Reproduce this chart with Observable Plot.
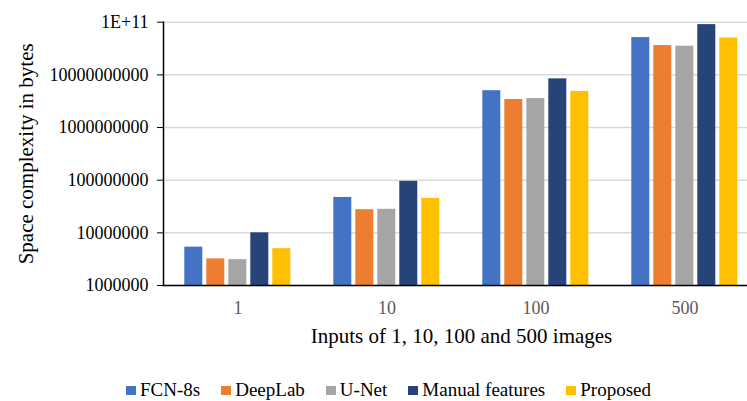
<!DOCTYPE html>
<html>
<head>
<meta charset="utf-8">
<script src="https://cdn.jsdelivr.net/npm/d3@7"></script>
<script src="https://cdn.jsdelivr.net/npm/@observablehq/plot@0.6"></script>
<style>
  html, body { margin: 0; padding: 0; background: #fff; }
  #wrap { position: relative; width: 747px; height: 401px; overflow: hidden; font-family: "Liberation Serif", "Times New Roman", serif; }
  #legend { position: absolute; left: 126px; top: 379px; display: flex; align-items: center; font-size: 19px; color: #000; white-space: nowrap; }
  .item { display: flex; align-items: center; margin-right: 21px; }
  .sw { width: 10px; height: 9px; margin-right: 4px; }
</style>
</head>
<body>
<div id="wrap"><div id="chart"></div><div id="legend"></div></div>
<script>
const groups = ["1", "10", "100", "500"];
const series = ["FCN-8s", "DeepLab", "U-Net", "Manual features", "Proposed"];
const colors = ["#4472C4", "#ED7D31", "#A5A5A5", "#264478", "#FFC000"];
const fcn8s    = [5.35e6, 4.7e7, 5.0e9, 5.1e10];
const deeplab  = [3.2e6, 2.75e7, 3.4e9, 3.6e10];
const unet     = [3.1e6, 2.8e7, 3.55e9, 3.5e10];
const manual   = [1.0e7, 9.5e7, 8.4e9, 9.0e10];
const proposed = [5.0e6, 4.5e7, 4.85e9, 5.0e10];
const yTicks = [1e6, 1e7, 1e8, 1e9, 1e10, 1e11];
const yTickLabels = ["1000000", "10000000", "100000000", "1000000000", "10000000000", "1E+11"];
const yLabel = "Space complexity in bytes";
const xLabel = "Inputs of 1, 10, 100 and 500 images";

const valuesBySeries = [fcn8s, deeplab, unet, manual, proposed];
const data = [];
series.forEach((s, si) => groups.forEach((g, gi) => data.push({group: g, series: s, value: valuesBySeries[si][gi]})));

const chart = Plot.plot({
  width: 747,
  height: 372,
  marginLeft: 162.7,
  marginRight: -13,
  marginTop: 21.7,
  marginBottom: 87,
  style: {fontFamily: "'Liberation Serif', 'Times New Roman', serif", fontSize: "18px", background: "#fff", color: "#000"},
  fx: {domain: groups, padding: 0},
  x: {domain: series, paddingInner: 0.2, paddingOuter: 0.88, axis: null},
  y: {type: "log", domain: [1e6, 1e11]},
  color: {domain: series, range: colors},
  marks: [
    Plot.gridY(yTicks, {stroke: "#d9d9d9", strokeOpacity: 1, strokeWidth: 1.5}),
    Plot.barY(data, {fx: "group", x: "series", y1: 1e6, y2: "value", fill: "series"}),
    Plot.ruleY([1e6], {stroke: "#000", strokeWidth: 1.5}),
    Plot.axisY({ticks: yTicks, tickFormat: d => yTickLabels[yTicks.indexOf(d)], tickSize: 6, tickPadding: 9, fontSize: 18, fill: "#000", label: null}),
    Plot.axisY({ticks: [], tickSize: 0, fontSize: 21, fill: "#000", label: yLabel, labelAnchor: "center", labelArrow: "none", labelOffset: 145}),
    Plot.frame({anchor: "left", facetAnchor: "left", stroke: "#000", strokeWidth: 1.5}),
    Plot.axisFx({anchor: "bottom", tickSize: 0, tickPadding: 16, fontSize: 18, fill: "#595959", label: null}),
    Plot.axisFx({anchor: "bottom", ticks: [], tickSize: 0, fontSize: 21, fill: "#000", label: xLabel, labelAnchor: "center", labelArrow: "none", labelOffset: 57})
  ]
});
document.getElementById("chart").appendChild(chart);

const legend = document.getElementById("legend");
series.forEach((s, i) => {
  const item = document.createElement("div");
  item.className = "item";
  const sw = document.createElement("span");
  sw.className = "sw";
  sw.style.background = colors[i];
  const t = document.createElement("span");
  t.textContent = s;
  item.appendChild(sw);
  item.appendChild(t);
  legend.appendChild(item);
});
</script>
</body>
</html>
